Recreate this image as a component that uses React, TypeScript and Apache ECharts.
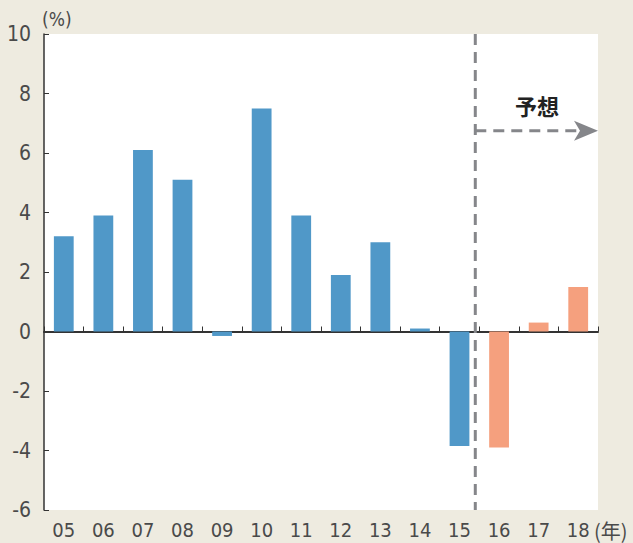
import React, { useEffect, useRef } from "react";
import * as echarts from "echarts";

const categories = ["05", "06", "07", "08", "09", "10", "11", "12", "13", "14", "15", "16", "17", "18"];
const actualValues: (number | null)[] = [3.2, 3.9, 6.1, 5.1, -0.15, 7.5, 3.9, 1.9, 3.0, 0.1, -3.85, null, null, null];
const forecastValues: (number | null)[] = [null, null, null, null, null, null, null, null, null, null, null, -3.9, 0.3, 1.5];
const yTicks = { min: -6, max: 10, interval: 2 };
const forecastLabel = "予想";
const forecastArrowValue = 6.75;

const FONT = "'Liberation Sans Narrow', 'DejaVu Sans Condensed', 'Noto Sans CJK JP', sans-serif";

export default function App() {
  const ref = useRef<HTMLDivElement>(null);
  useEffect(() => {
    if (!ref.current) return;
    const chart = echarts.init(ref.current, null, { renderer: "svg" });
    const grid = { left: 44, right: 35, top: 34, bottom: 33 };
    chart.setOption({
      animation: false,
      backgroundColor: "#EEEBE0",
      grid: { ...grid, show: true, backgroundColor: "#ffffff", borderWidth: 0 },
      xAxis: {
        type: "category",
        data: categories,
        axisLine: { onZero: true, lineStyle: { color: "#333", width: 2 } },
        axisTick: { show: true, inside: true, length: 5, alignWithLabel: false, lineStyle: { color: "#333", width: 1 } },
        axisLabel: { color: "#4a4a4a", fontSize: 20, fontFamily: FONT, margin: 10, interval: 0 },
        splitLine: { show: false },
      },
      yAxis: {
        type: "value",
        min: yTicks.min,
        max: yTicks.max,
        interval: yTicks.interval,
        axisLine: { show: true, lineStyle: { color: "#333", width: 1.5 } },
        axisTick: { show: true, inside: true, length: 5, lineStyle: { color: "#333" } },
        axisLabel: { color: "#4a4a4a", fontSize: 21, fontFamily: FONT, margin: 13 },
        splitLine: { show: false },
      },
      series: [
        {
          type: "bar",
          data: actualValues,
          barWidth: "50%",
          barGap: "-100%",
          itemStyle: { color: "#5098C8" },
        },
        {
          type: "bar",
          data: forecastValues,
          barWidth: "50%",
          barGap: "-100%",
          itemStyle: { color: "#F5A07E" },
        },
      ],
    });

    const p15 = chart.convertToPixel({ seriesIndex: 0 }, [10, 0]) as number[];
    const p16 = chart.convertToPixel({ seriesIndex: 0 }, [11, 0]) as number[];
    const pArrow = chart.convertToPixel({ seriesIndex: 0 }, [10, forecastArrowValue]) as number[];
    const vx = (p15[0] + p16[0]) / 2 - 4;
    const top = grid.top;
    const bottom = 543 - grid.bottom;
    const right = 633 - grid.right;
    const ay = pArrow[1];
    const dashStyle = { stroke: "#85868A", lineWidth: 3, lineDash: [11, 7] };

    chart.setOption({
      graphic: [
        { type: "line", shape: { x1: vx, y1: top, x2: vx, y2: bottom }, style: dashStyle, z: 10 },
        { type: "line", shape: { x1: vx, y1: ay, x2: right - 18, y2: ay }, style: dashStyle, z: 10 },
        {
          type: "polygon",
          shape: { points: [[right - 24, ay - 10], [right, ay], [right - 24, ay + 10], [right - 18, ay]] },
          style: { fill: "#85868A" },
          z: 10,
        },
        {
          type: "text",
          x: 537,
          y: ay - 26,
          style: { text: forecastLabel, font: `bold 22px 'Noto Sans CJK JP', sans-serif`, fill: "#222", align: "center", verticalAlign: "middle" },
          z: 10,
        },
        {
          type: "text",
          x: 42,
          y: 19,
          style: { text: "(%)", font: `19px ${FONT}`, fill: "#4a4a4a", align: "left", verticalAlign: "middle" },
        },
        {
          type: "text",
          x: 594,
          y: 530,
          style: { text: "(年)", font: `20px 'Liberation Sans Narrow', 'Noto Sans CJK JP', sans-serif`, fill: "#4a4a4a", align: "left", verticalAlign: "middle" },
        },
      ],
    });

    return () => chart.dispose();
  }, []);
  return <div ref={ref} style={{ width: 633, height: 543, position: "fixed", left: 0, top: 0 }} />;
}
